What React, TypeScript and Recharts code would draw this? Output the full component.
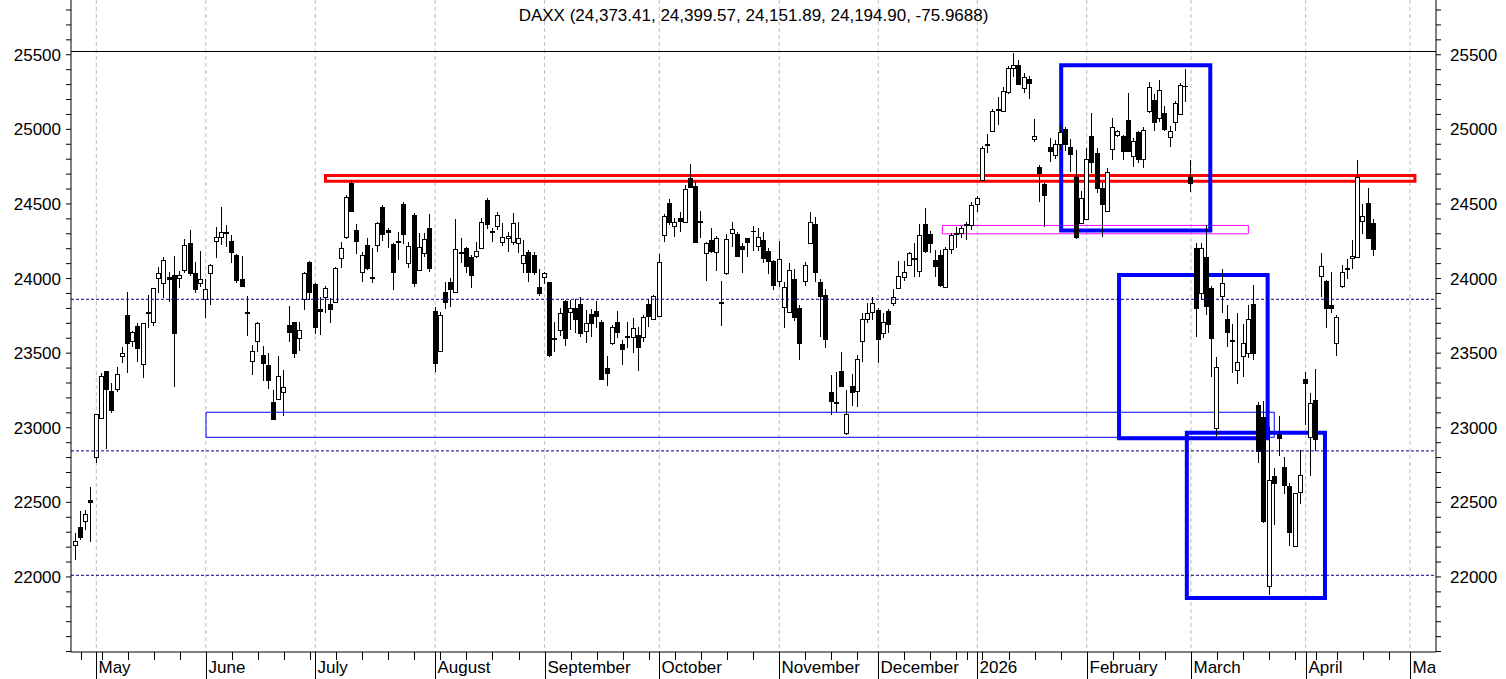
import React from 'react';
import { ComposedChart, Bar, XAxis, YAxis, ReferenceLine, ReferenceArea, CartesianGrid } from 'recharts';

// ---- OHLC values, one entry per trading day (Apr 25 2025 .. Apr 22 2026) ----
const opens = [
  22213, 22336, 22372, 22517,
  22806, 23064, 23381, 23247, 23258, 23482, 23756, 23584, 23683, 23426, 23778, 23707, 24002, 23969, 24009, 24024, 24004, 24058, 24236, 24040, 23969,
  23861, 24035, 24252, 24281, 24312, 24252, 24158, 23995, 23776, 23450, 23584, 23488, 23421, 23173, 23191, 23242, 23689, 23707, 23604, 23861, 24113,
  23962, 23796, 23879, 23830, 23845, 24136, 24281, 24639, 24326, 24042, 24225, 24011, 24225, 24478, 24326, 24230, 24255, 24500, 24102, 24426, 24058, 24169, 24337,
  23783, 23517, 23908, 23975, 23908, 24178, 24203, 24147, 24153, 24203, 24527, 24319, 24354, 24247, 24270, 24247, 24236, 24106, 24176, 24158, 23941,
  24013, 23975, 23602, 23655, 23850, 23774, 23805, 23830, 23651, 23763, 23783, 23711, 23399, 23570, 23711, 23562, 23615, 23607, 23622, 23607, 23830, 23727,
  23751, 24292, 24504, 24354, 24404, 24381, 24672, 24620, 24386, 24169, 24259, 24180, 23843, 24035, 24307, 24299, 24218, 24274, 24322, 24220, 24259, 24185, 24120,
  23986, 23808, 23774, 23997, 23805, 23986, 24240, 24366, 23979, 23890, 23238, 23173, 23381, 22963, 23280, 23249, 23584, 23727, 23774,
  23789, 23633, 23783, 23834, 23935, 24013, 24091, 24138, 24053, 24366, 24297, 24124, 24158, 23945, 24198, 24306, 24303, 24366, 24359,
  24498, 24661, 24902, 24991, 25136, 25125, 25252, 25409, 25431, 25275, 25338, 24935, 24750, 24634, 24884, 24828, 24900, 25000, 24880, 24683, 24375,
  24397, 24956, 24840, 24609, 24453, 24866, 24962, 24956, 25063, 24824, 24984, 24799, 25125, 25197, 25074, 25112, 24947, 25051, 25103, 25291,
  24683, 24203, 23901, 24143, 23935, 22997, 23885, 23729, 23588, 23387, 23481, 23499, 23830, 23153, 23074, 21942, 22677, 22960, 22735, 22610, 22210, 22572,
  23327, 22936, 23186, 24019, 23984, 23823, 23566, 23952, 24073, 24136, 24147, 24386, 24509, 24373.41,
];

const highs = [
  22296, 22443, 22450, 22602,
  23093, 23366, 23381, 23298, 23410, 23544, 23913, 23651, 23700, 23705, 23890, 23940, 24076, 24147, 24046, 24151, 24053, 24262, 24325, 24110, 24185,
  23995, 24098, 24348, 24482, 24359, 24292, 24165, 24151, 23883, 23555, 23711, 23548, 23499, 23253, 23481, 23387, 23816, 23711, 23707, 24046, 24120,
  23972, 23879, 23950, 23868, 24080, 24247, 24560, 24661, 24366, 24180, 24270, 24203, 24379, 24493, 24337, 24239, 24314, 24515, 24247, 24437, 24307, 24303, 24433,
  23811, 23778, 23979, 24002, 24397, 24270, 24210, 24158, 24247, 24404, 24538, 24337, 24444, 24370, 24310, 24437, 24377, 24259, 24192, 24178, 24062,
  24046, 23979, 23711, 23801, 23856, 23856, 23861, 23879, 23789, 23794, 23852, 23720, 23481, 23689, 23783, 23588, 23711, 23734, 23677, 23756, 23861, 23890,
  24165, 24433, 24531, 24404, 24448, 24627, 24768, 24647, 24453, 24247, 24337, 24285, 23984, 24297, 24381, 24310, 24236, 24274, 24352, 24337, 24314, 24203, 24124,
  24252, 23979, 24106, 24064, 23823, 24113, 24444, 24415, 23997, 23928, 23354, 23376, 23510, 23253, 23359, 23488, 23767, 23834, 23879,
  23801, 23767, 23796, 23928, 24118, 24118, 24180, 24236, 24366, 24471, 24321, 24192, 24192, 24210, 24303, 24348, 24352, 24381, 24515,
  24553, 24889, 24967, 25137, 25219, 25286, 25425, 25510, 25465, 25376, 25358, 25069, 24761, 24642, 24944, 24929, 25020, 25018, 24935, 24862, 24587,
  24873, 25108, 24877, 24638, 24743, 25074, 24996, 24960, 25242, 24944, 24991, 25018, 25319, 25235, 25331, 25157, 25025, 25190, 25309, 25403,
  24795, 24240, 24240, 24359, 23950, 23477, 24062, 23823, 23696, 23767, 23696, 23823, 23957, 23175, 23180, 23007, 22728, 23079, 22806, 22628, 22561, 22851,
  23376, 23235, 23392, 24174, 23990, 24046, 23756, 24091, 24131, 24259, 24795, 24500, 24609, 24399.57,
];

const lows = [
  22115, 22249, 22316, 22231,
  22766, 23064, 22859, 23098, 23242, 23437, 23366, 23544, 23443, 23336, 23667, 23684, 23902, 23872, 23845, 23275, 23935, 24040, 24020, 23900, 23946,
  23738, 23823, 24136, 24225, 24214, 24106, 23968, 23952, 23615, 23354, 23510, 23314, 23260, 23052, 23191, 23079, 23577, 23466, 23515, 23789, 23856,
  23627, 23622, 23771, 23704, 23845, 24069, 24263, 24446, 24165, 23979, 24060, 23968, 24180, 24254, 24203, 23923, 24124, 24232, 24069, 23941, 24058, 24142, 24046,
  23376, 23517, 23794, 23807, 23908, 24102, 24035, 23939, 24140, 24203, 24330, 24247, 24326, 24218, 24180, 24225, 24169, 24035, 23979, 24024, 23883,
  23964, 23476, 23510, 23615, 23550, 23655, 23637, 23607, 23570, 23607, 23667, 23320, 23282, 23555, 23600, 23421, 23533, 23503, 23383, 23577, 23677, 23727,
  23751, 24247, 24359, 24277, 24314, 24381, 24612, 24245, 24270, 23986, 24174, 24053, 23684, 24024, 24214, 24142, 24039, 24147, 24187, 24187, 24102, 24031, 23923,
  23941, 23671, 23774, 23718, 23454, 23950, 24232, 23979, 23610, 23533, 23086, 23104, 23275, 22952, 23148, 23141, 23443, 23700, 23722,
  23436, 23600, 23637, 23816, 23928, 23986, 24084, 24009, 24009, 24169, 24169, 24013, 23945, 23935, 24163, 24203, 24270, 24259, 24326,
  24448, 24654, 24840, 24989, 25029, 25118, 25237, 25353, 25295, 25242, 25202, 24913, 24511, 24348, 24783, 24799, 24860, 24857, 24716, 24265, 24370,
  24397, 24706, 24571, 24277, 24448, 24795, 24947, 24795, 24850, 24750, 24777, 24743, 25108, 24991, 25051, 24991, 24884, 24991, 25096, 25185,
  24582, 23606, 23856, 23756, 23342, 22940, 23771, 23544, 23369, 23291, 23338, 23466, 23454, 22762, 22360, 21879, 22349, 22811, 22556, 22208, 22203, 22489,
  23019, 22677, 22846, 23878, 23671, 23771, 23483, 23939, 23997, 24064, 24147, 24297, 24263, 24151.89,
];

const closes = [
  22242, 22271, 22421, 22502,
  23091, 23348, 23259, 23120, 23359, 23500, 23571, 23640, 23533, 23700, 23772, 23935, 24036, 24125, 23999, 23637, 24024, 24226, 24039, 23933, 23995,
  23930, 24091, 24281, 24314, 24305, 24180, 23991, 23952, 23769, 23517, 23700, 23436, 23320, 23059, 23347, 23271, 23644, 23503, 23655, 24035, 23912,
  23677, 23783, 23935, 23794, 24069, 24203, 24549, 24455, 24254, 24158, 24069, 24004, 24370, 24299, 24312, 24046, 24248, 24299, 24218, 23972, 24214, 24263, 24069,
  23432, 23756, 23845, 23930, 24196, 24174, 24084, 24024, 24185, 24381, 24364, 24312, 24426, 24281, 24287, 24370, 24270, 24158, 24046, 24046, 23905,
  24035, 23488, 23597, 23767, 23600, 23805, 23727, 23637, 23700, 23704, 23751, 23327, 23365, 23674, 23644, 23528, 23607, 23671, 23543, 23741, 23751, 23883,
  24109, 24421, 24381, 24377, 24388, 24598, 24616, 24247, 24379, 24236, 24185, 24270, 23838, 24263, 24330, 24153, 24200, 24247, 24319, 24281, 24136, 24120, 23957,
  24129, 23946, 24058, 23744, 23570, 24091, 24381, 24046, 23885, 23593, 23181, 23168, 23282, 23092, 23242, 23459, 23729, 23767, 23834,
  23593, 23707, 23694, 23879, 24019, 24042, 24169, 24133, 24292, 24187, 24240, 24086, 23957, 24198, 24292, 24301, 24337, 24361, 24493,
  24538, 24873, 24897, 25123, 25132, 25259, 25409, 25431, 25302, 25353, 25309, 24958, 24706, 24560, 24857, 24900, 24980, 24902, 24833, 24277, 24542,
  24801, 24783, 24609, 24498, 24716, 25014, 24989, 24857, 24857, 24922, 24799, 24996, 25282, 25051, 25264, 25000, 24989, 25179, 25297, 25289,
  24639, 23801, 24203, 23816, 23600, 23405, 23968, 23644, 23580, 23439, 23566, 23727, 23503, 22846, 22377, 22650, 22632, 22930, 22617, 22303, 22561, 22684,
  23302, 23168, 22923, 24084, 23805, 23805, 23741, 24042, 24062, 24153, 24683, 24419, 24274, 24194.90,
];

const lastChange = -75.9688;

// ---- axis tick positions (trading-day index) and labels ----
const monthStarts = [4, 25, 46, 69, 90, 112, 135, 154, 173, 194, 214, 236, 256];
const monthLabels = ['May', 'June', 'July', 'August', 'September', 'October', 'November', 'December', '2026', 'February', 'March', 'April', 'May'];
const weekStarts = [1, 5, 10, 15, 20, 25, 30, 35, 40, 45, 50, 55, 60, 65, 70, 75, 80, 85, 90, 95, 100, 105, 110, 115, 120, 125, 130, 135, 140, 145, 150, 154, 159, 164, 169, 171, 174, 179, 184, 189, 194, 199, 204, 209, 214, 219, 224, 229, 234, 238, 242, 247, 252, 256];
const yMinorTicks = [21500, 21600, 21700, 21800, 21900, 22000, 22100, 22200, 22300, 22400, 22500, 22600, 22700, 22800, 22900, 23000, 23100, 23200, 23300, 23400, 23500, 23600, 23700, 23800, 23900, 24000, 24100, 24200, 24300, 24400, 24500, 24600, 24700, 24800, 24900, 25000, 25100, 25200, 25300, 25400, 25500, 25600, 25700, 25800];
const yLabelTicks = [22000, 22500, 23000, 23500, 24000, 24500, 25000, 25500];

// ---- drawn levels / zones ----
const topLine = 25525;
const dashedLevels = [23861, 22845, 22011];
const redZone = { x1: 47.97, x2: 256.95, y1: 24653, y2: 24691 };
const thickBoxes = [
  { x1: 189.1, x2: 217.7, y1: 24322, y2: 25429 },
  { x1: 200.2, x2: 228.7, y1: 22930, y2: 24024 },
  { x1: 213.2, x2: 239.7, y1: 21859, y2: 22966 },
];
const thinBlueBox = { x1: 25.05, x2: 229.97, y1: 22936, y2: 23104 };
const pinkBox = { x1: 166.3, x2: 225.0, y1: 24300, y2: 24356 };

const X_DOMAIN: [number, number] = [-0.854, 261.0];
const Y_DOMAIN: [number, number] = [21497, 25867];

const FONT = "'Liberation Sans', Arial, Helvetica, sans-serif";
const FS = 17;

const data = opens.map((o, i) => ({
  i,
  open: o,
  high: Math.max(highs[i], o, closes[i]),
  low: Math.min(lows[i], o, closes[i]),
  close: closes[i],
}));

const fmt = (v: number) => v.toLocaleString('en-US', { minimumFractionDigits: 2, maximumFractionDigits: 2 });
const last = data[data.length - 1];
const title = `DAXX (${fmt(last.open)}, ${fmt(last.high)}, ${fmt(last.low)}, ${fmt(last.close)}, ${lastChange})`;

const Candle = (props: any) => {
  const { x, y, width, height, payload } = props;
  if (x == null || y == null || !payload) return null;
  const top = Math.min(y, y + height);
  const h = Math.abs(height);
  const { open, close, high, low } = payload;
  const span = high - low || 1;
  const toY = (v: number) => top + ((high - v) / span) * h;
  const cx = Math.floor(x + width / 2) + 0.5;
  const yo = toY(open);
  const yc = toY(close);
  const bTop = Math.round(Math.min(yo, yc)) + 0.5;
  const bBot = Math.round(Math.max(yo, yc)) + 0.5;
  const up = close >= open;
  return (
    <g shapeRendering="crispEdges">
      <line x1={cx} x2={cx} y1={toY(high)} y2={toY(low)} stroke="#000" strokeWidth={1} />
      {bBot - bTop < 1 ? (
        <line x1={cx - 2.5} x2={cx + 2.5} y1={bTop} y2={bTop} stroke="#000" strokeWidth={1} />
      ) : (
        <rect x={cx - 2} y={bTop} width={4} height={bBot - bTop} fill={up ? '#fff' : '#000'} stroke="#000" strokeWidth={1} />
      )}
    </g>
  );
};

const allXTicks = Array.from(new Set([...weekStarts, ...monthStarts])).sort((a, b) => a - b);

const XTick = (props: any) => {
  const { x, y, payload } = props;
  const v = payload.value;
  const m = monthStarts.indexOf(v);
  const px = Math.round(x) + 0.5;
  if (m >= 0) {
    return (
      <g>
        <defs>
          <clipPath id={`mclip${m}`}>
            <rect x={0} y={y} width={1436} height={30} />
          </clipPath>
        </defs>
        <line x1={px} y1={y} x2={px} y2={y + 27} stroke="#000" strokeWidth={1} />
        <text x={px + 2} y={y + 21} fontSize={FS} fontFamily={FONT} fill="#000" textAnchor="start" clipPath={`url(#mclip${m})`}>
          {monthLabels[m]}
        </text>
      </g>
    );
  }
  return <line x1={px} y1={y} x2={px} y2={y + 8} stroke="#000" strokeWidth={1} />;
};

const YTickLeft = (props: any) => {
  const { x, y, payload } = props;
  if (!yLabelTicks.includes(payload.value)) return <g />;
  return (
    <text x={x} y={y} dy={6} textAnchor="end" fontSize={FS} fontFamily={FONT} fill="#000">
      {payload.value}
    </text>
  );
};

const YTickRight = (props: any) => {
  const { x, y, payload } = props;
  if (!yLabelTicks.includes(payload.value)) return <g />;
  return (
    <text x={x} y={y} dy={6} textAnchor="start" fontSize={FS} fontFamily={FONT} fill="#000">
      {payload.value}
    </text>
  );
};

const monthGridGen = (p: any) => {
  const s = p && p.xAxis && p.xAxis.scale;
  if (!s) return [];
  const f = typeof s === 'function' ? s : (v: number) => s.map(v);
  return monthStarts.map((m) => f(m));
};

export default function App() {
  return (
    <div style={{ position: 'absolute', left: 0, top: 0, width: 1506, height: 679, background: '#fff' }}>
      <ComposedChart width={1506} height={679} data={data} margin={{ top: 0, right: 0, bottom: 0, left: 0 }}>
        <CartesianGrid
          yAxisId="left"
          horizontal={false}
          vertical
          verticalCoordinatesGenerator={monthGridGen}
          stroke="#bdbdbd"
          strokeDasharray="4 3"
        />
        <XAxis
          dataKey="i"
          type="number"
          domain={X_DOMAIN}
          allowDataOverflow
          ticks={allXTicks}
          interval={0}
          tickLine={false}
          tickSize={0}
          tickMargin={0}
          tick={<XTick />}
          axisLine={{ stroke: '#000' }}
          height={27}
        />
        <YAxis
          yAxisId="left"
          orientation="left"
          type="number"
          domain={Y_DOMAIN}
          allowDataOverflow
          ticks={yMinorTicks}
          interval={0}
          width={71}
          tickSize={5}
          tickMargin={5}
          tickLine={{ stroke: '#000' }}
          axisLine={{ stroke: '#000' }}
          tick={<YTickLeft />}
        />
        <YAxis
          yAxisId="right"
          orientation="right"
          type="number"
          domain={Y_DOMAIN}
          allowDataOverflow
          ticks={yMinorTicks}
          interval={0}
          width={70}
          tickSize={5}
          tickMargin={9}
          tickLine={{ stroke: '#000' }}
          axisLine={{ stroke: '#000' }}
          tick={<YTickRight />}
        />
        <ReferenceLine y={topLine} yAxisId="left" stroke="#000" strokeWidth={1} shapeRendering="crispEdges" />
        {dashedLevels.map((v) => (
          <ReferenceLine key={`d${v}`} y={v} yAxisId="left" stroke="#000080" strokeDasharray="3 2" />
        ))}
        <ReferenceArea
          yAxisId="left"
          x1={thinBlueBox.x1}
          x2={thinBlueBox.x2}
          y1={thinBlueBox.y1}
          y2={thinBlueBox.y2}
          stroke="#0000ff"
          strokeWidth={1}
          fill="none"
          fillOpacity={0}
          ifOverflow="visible"
        />
        <ReferenceArea
          yAxisId="left"
          x1={pinkBox.x1}
          x2={pinkBox.x2}
          y1={pinkBox.y1}
          y2={pinkBox.y2}
          stroke="#ff00ff"
          strokeWidth={1}
          fill="none"
          fillOpacity={0}
          ifOverflow="visible"
        />
        <Bar
          yAxisId="left"
          dataKey={(d: any) => [d.low, d.high]}
          barSize={5}
          isAnimationActive={false}
          shape={(p: any) => <Candle {...p} />}
        />
        <ReferenceArea
          yAxisId="left"
          x1={redZone.x1}
          x2={redZone.x2}
          y1={redZone.y1}
          y2={redZone.y2}
          stroke="#ff0000"
          strokeWidth={3}
          fill="none"
          fillOpacity={0}
          ifOverflow="visible"
        />
        {thickBoxes.map((b, k) => (
          <ReferenceArea
            key={`b${k}`}
            yAxisId="left"
            x1={b.x1}
            x2={b.x2}
            y1={b.y1}
            y2={b.y2}
            stroke="#0000ff"
            strokeWidth={4}
            fill="none"
            fillOpacity={0}
            ifOverflow="visible"
          />
        ))}
      </ComposedChart>
      <div
        style={{
          position: 'absolute',
          left: 71,
          top: 7,
          width: 1365,
          textAlign: 'center',
          fontFamily: FONT,
          fontSize: FS,
          lineHeight: '18px',
          color: '#000',
          pointerEvents: 'none',
        }}
      >
        {title}
      </div>
    </div>
  );
}
